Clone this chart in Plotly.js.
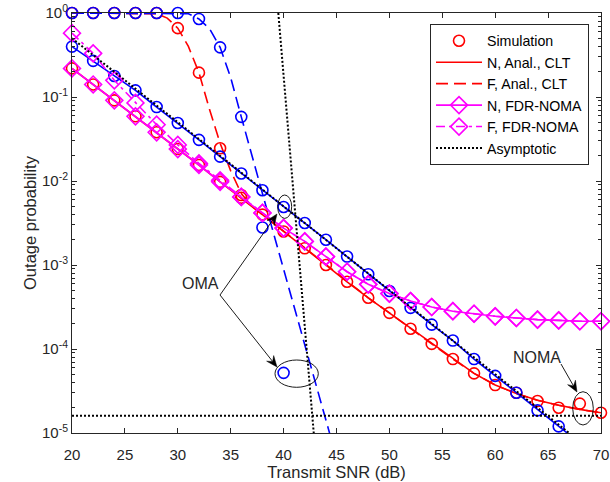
<!DOCTYPE html>
<html>
<head>
<meta charset="utf-8">
<script src="https://cdn.plot.ly/plotly-3.0.1.min.js"></script>
<style>html,body{margin:0;padding:0;background:#fff;}#chart{width:610px;height:482px;}</style>
</head>
<body>
<div id="chart"></div>
<script>
// ---- data ----
const snr = [20,22,24,26,28,30,32,34,36,38,40,42,44,46,48,50,52,54,56,58,60,62,64,66,68,70];

// NOMA near user, analytical CLT
const nomaNearAnal = [0.219,0.141,0.0912,0.0589,0.0380,0.0240,0.0155,0.00977,0.00631,0.00398,0.00251,0.00158,0.00100,6.31e-4,4.07e-4,2.69e-4,1.74e-4,1.15e-4,7.59e-5,5.13e-5,3.72e-5,2.95e-5,2.45e-5,2.14e-5,1.91e-5,1.74e-5];
// NOMA near user, simulation
const nomaNearSim = [0.219,0.141,0.0912,0.0589,0.0380,0.0240,0.0155,0.00977,0.00631,0.00398,0.00251,0.00158,0.00100,6.31e-4,4.07e-4,2.69e-4,1.74e-4,1.15e-4,7.59e-5,5.13e-5,3.72e-5,3.02e-5,2.40e-5,2.00e-5,2.24e-5,1.74e-5];

// NOMA far user, analytical CLT
const snrNomaFar = [20,22,24,26,28,29,30,31,32,33,34,35,36,37,38,40,42,44,46,48,50,52,54,56,58,60,62,64,66,68,70];
const nomaFarAnal = [1,1,1,1,0.98,0.87,0.66,0.40,0.195,0.0708,0.0282,0.0132,0.00708,0.00500,0.00398,0.00251,0.00158,0.00100,6.31e-4,4.07e-4,2.69e-4,1.74e-4,1.15e-4,7.59e-5,5.13e-5,3.72e-5,2.95e-5,2.45e-5,2.14e-5,1.91e-5,1.74e-5];
// NOMA far user, simulation
const snrNomaFarSim = [20,22,24,26,28,30,32,34,36];
const nomaFarSim = [1,1,1,1,1,0.66,0.195,0.0245,0.0068];

// OMA near user (analytical + simulation)
const omaNearAnal = [0.398,0.269,0.178,0.120,0.0759,0.0490,0.0309,0.0195,0.0123,0.00776,0.00490,0.00316,0.00200,0.00126,7.76e-4,4.90e-4,3.09e-4,1.95e-4,1.26e-4,7.59e-5,4.79e-5,3.02e-5,1.86e-5,1.20e-5,7.59e-6,4.79e-6];
const snrOmaNearSim = [20,22,24,26,28,30,32,34,36,38,40,42,44,46,48,50,52,54,56,58,60,62,64,66];
const omaNearSim = [0.398,0.269,0.178,0.120,0.0759,0.0490,0.0309,0.0195,0.0123,0.00776,0.00490,0.00316,0.00200,0.00126,7.76e-4,4.90e-4,3.09e-4,1.95e-4,1.26e-4,7.59e-5,4.79e-5,3.02e-5,1.86e-5,1.20e-5];

// OMA far user (analytical + simulation)
const snrOmaFar = [20,22,24,26,28,30,31,32,33,34,35,36,37,38,40,42,44,46];
const omaFarAnal = [1,1,1,1,1,1,0.98,0.85,0.65,0.39,0.17,0.058,0.020,0.0071,8.9e-4,1.12e-4,1.41e-5,1.8e-6];
const snrOmaFarSim = [20,22,24,26,28,30,32,34,36,38,40];
const omaFarSim = [1,1,1,1,1,1,0.85,0.39,0.058,0.0028,5.2e-5];

// FDR-NOMA
const fdrNear = [0.219,0.141,0.0912,0.0589,0.0380,0.0240,0.0155,0.00977,0.00646,0.00417,0.00275,0.00191,0.00126,8.32e-4,5.89e-4,4.57e-4,3.72e-4,3.16e-4,2.82e-4,2.63e-4,2.45e-4,2.34e-4,2.24e-4,2.19e-4,2.14e-4,2.14e-4];
const fdrFar = [0.575,0.331,0.158,0.0851,0.0468,0.0269,0.0162,0.0102,0.00646,0.00417,0.00275,0.00191,0.00126,8.32e-4,5.89e-4,4.57e-4,3.72e-4,3.16e-4,2.82e-4,2.63e-4,2.45e-4,2.34e-4,2.24e-4,2.19e-4,2.14e-4,2.14e-4];

// Asymptotic lines
const asymOmaX = [20,70];
const asymOmaY = [0.5,5.0e-6];
const asymFarX = [39.5,42.85];
const asymFarY = [1,1e-5];
const asymFloorX = [20,70];
const asymFloorY = [1.6e-5,1.6e-5];

const xTicks = [20,25,30,35,40,45,50,55,60,65,70];
const yTicks = [1,0.1,0.01,0.001,0.0001,0.00001];
const yTickText = ['10<sup>0</sup>','10<sup>-1</sup>','10<sup>-2</sup>','10<sup>-3</sup>','10<sup>-4</sup>','10<sup>-5</sup>'];

// ---- styles ----
const RED = '#FF0000', BLUE = '#0000FF', MAG = '#FF00FF', BLK = '#000000';
const DASH = '12px,6px';
const DASHDOT = '9px,4px,3px,4px';
const DOT = '2px,2px';
const circ = (c) => ({symbol:'circle-open', size:11, color:c, line:{color:c, width:1.6}});
const diam = {symbol:'diamond-open', size:13, color:MAG, line:{color:MAG, width:1.6}};

const traces = [
  {x:snr, y:nomaNearAnal, mode:'lines', name:'N, Anal., CLT', line:{color:RED, width:1.6}, legendrank:2},
  {x:snrNomaFar, y:nomaFarAnal, mode:'lines', name:'F, Anal., CLT', line:{color:RED, width:1.6, dash:DASH}, legendrank:3},
  {x:snr, y:omaNearAnal, mode:'lines', showlegend:false, line:{color:BLUE, width:1.6}},
  {x:snrOmaFar, y:omaFarAnal, mode:'lines', showlegend:false, line:{color:BLUE, width:1.6, dash:DASH}},
  {x:snr, y:nomaNearSim, mode:'markers', name:'Simulation', marker:circ(RED), cliponaxis:false, legendrank:1},
  {x:snrNomaFarSim, y:nomaFarSim, mode:'markers', showlegend:false, marker:circ(RED), cliponaxis:false},
  {x:snrOmaNearSim, y:omaNearSim, mode:'markers', showlegend:false, marker:circ(BLUE), cliponaxis:false},
  {x:snrOmaFarSim, y:omaFarSim, mode:'markers', showlegend:false, marker:circ(BLUE), cliponaxis:false},
  {x:snr, y:fdrNear, mode:'lines+markers', name:'N, FDR-NOMA', line:{color:MAG, width:1.6}, marker:diam, cliponaxis:false, legendrank:4},
  {x:snr, y:fdrFar, mode:'lines+markers', name:'F, FDR-NOMA', line:{color:MAG, width:1.6, dash:DASHDOT}, marker:diam, cliponaxis:false, legendrank:5},
  {x:asymOmaX, y:asymOmaY, mode:'lines', name:'Asymptotic', line:{color:BLK, width:2, dash:DOT}, legendrank:6},
  {x:asymFarX, y:asymFarY, mode:'lines', showlegend:false, line:{color:BLK, width:2, dash:DOT}},
  {x:asymFloorX, y:asymFloorY, mode:'lines', showlegend:false, line:{color:BLK, width:2, dash:DOT}}
];

const AX = '#262626';
const FONT = 'Liberation Sans, Arial, sans-serif';
const L = 72, T = 13, W = 529, H = 420;
const px = (x) => (x - L) / W;
const py = (y) => (T + H - y) / H;

const ell = (x0,y0,x1,y1) => ({type:'circle', xref:'paper', yref:'paper', x0:px(x0), x1:px(x1), y0:py(y1), y1:py(y0), line:{color:BLK, width:0.9}});

// arrow (tail -> head) built from a line and a filled head, positions in page pixels
function arrow(x0, y0, x1, y1) {
  const dx = x1 - x0, dy = y1 - y0, len = Math.hypot(dx, dy);
  const ux = dx / len, uy = dy / len, nx = -uy, ny = ux;
  const hl = 11, hw = 4.5, notch = 7;
  const bx = x1 - ux * hl, by = y1 - uy * hl;
  const mx = x1 - ux * notch, my = y1 - uy * notch;
  const p = (x, y) => px(x).toFixed(5) + ',' + py(y).toFixed(5);
  return [
    {type:'line', xref:'paper', yref:'paper', x0:px(x0), y0:py(y0), x1:px(mx), y1:py(my), line:{color:BLK, width:0.9}},
    {type:'path', xref:'paper', yref:'paper',
     path:'M' + p(x1, y1) + ' L' + p(bx + nx * hw, by + ny * hw) + ' L' + p(mx, my) + ' L' + p(bx - nx * hw, by - ny * hw) + ' Z',
     fillcolor:BLK, line:{color:BLK, width:0.5}}
  ];
}

const layout = {
  width:610, height:482,
  margin:{l:L, r:610-L-W, t:T, b:482-T-H},
  paper_bgcolor:'#fff', plot_bgcolor:'#fff',
  font:{family:FONT, color:AX, size:15},
  showlegend:true,
  legend:{x:px(430), y:py(24), xanchor:'left', yanchor:'top', bgcolor:'#fff', bordercolor:AX, borderwidth:1,
          font:{family:FONT, size:14.2, color:'#000'}, traceorder:'normal', tracegroupgap:0, itemwidth:46},
  xaxis:{type:'linear', range:[20,70], tickvals:xTicks, ticks:'inside', ticklen:5, tickcolor:AX,
         showline:true, linecolor:AX, linewidth:1, mirror:'ticks', showgrid:false, zeroline:false,
         ticklabelstandoff:8,
         tickfont:{family:FONT, size:15, color:AX},
         title:{text:'Transmit SNR (dB)', font:{family:FONT, size:16.5, color:AX}, standoff:4}},
  yaxis:{type:'log', range:[-5,0], tickvals:yTicks, ticktext:yTickText, ticks:'inside', ticklen:5, tickcolor:AX,
         showline:true, linecolor:AX, linewidth:1, mirror:'ticks', showgrid:false, zeroline:false,
         minor:{ticks:'inside', ticklen:3, tickcolor:AX, dtick:'D1', showgrid:false},
         tickfont:{family:FONT, size:15, color:AX},
         title:{text:'Outage probability', font:{family:FONT, size:16.5, color:AX}, standoff:1}},
  shapes:[
    ell(277.7,195,291.7,218.4),
    ell(275,360,318.3,387.3),
    ell(572.7,391.7,593.3,425)
  ].concat(arrow(220,295,277,214), arrow(220,295,277,367), arrow(561,364,577,392)),
  annotations:[
    {xref:'paper', yref:'paper', x:px(200), y:py(283), xanchor:'center', yanchor:'middle', text:'OMA', showarrow:false, font:{family:FONT, size:16, color:AX}},
    {xref:'paper', yref:'paper', x:px(537), y:py(357), xanchor:'center', yanchor:'middle', text:'NOMA', showarrow:false, font:{family:FONT, size:16, color:AX}}
  ]
};

Plotly.newPlot('chart', traces, layout, {displayModeBar:false, staticPlot:true});
</script>
</body>
</html>
